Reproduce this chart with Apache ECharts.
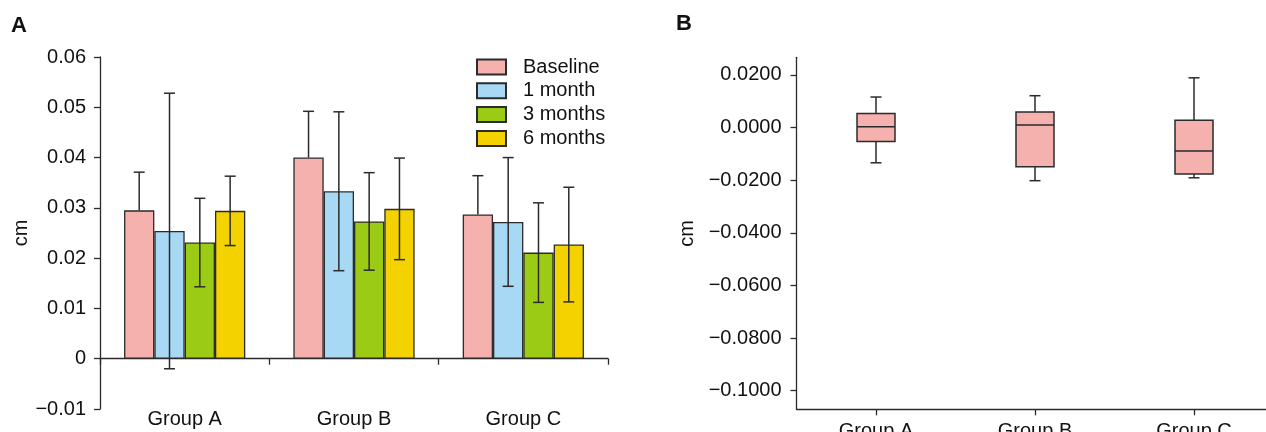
<!DOCTYPE html>
<html><head><meta charset="utf-8">
<script src="https://cdn.jsdelivr.net/npm/echarts@6/dist/echarts.min.js"></script>
<style>html,body{margin:0;padding:0;background:#fff}#c{width:1266px;height:432px}</style>
</head><body><div id="c"></div>
<script>
const categories = ['Group A', 'Group B', 'Group C'];
const seriesNames = ['Baseline', '1 month', '3 months', '6 months'];
const baseline = [0.0295, 0.0400, 0.0287];
const baselineSd = [0.0076, 0.0092, 0.0077];
const month1 = [0.0254, 0.0333, 0.0272];
const month1Sd = [0.0274, 0.0158, 0.0128];
const month3 = [0.0231, 0.0273, 0.0211];
const month3Sd = [0.0088, 0.0097, 0.0099];
const month6 = [0.0294, 0.0298, 0.0227];
const month6Sd = [0.0069, 0.0101, 0.0114];
// boxplot: [min, Q1, median, Q3, max]
const boxA = [-0.0134, -0.0053, 0.0003, 0.0053, 0.0116];
const boxB = [-0.0202, -0.0149, 0.0010, 0.0059, 0.0121];
const boxC = [-0.0191, -0.0177, -0.0089, 0.0028, 0.0189];
const ticksA = [-0.01, 0, 0.01, 0.02, 0.03, 0.04, 0.05, 0.06];
const ticksB = [-0.1, -0.08, -0.06, -0.04, -0.02, 0, 0.02];

const colors = ['#F4B1AE', '#A7D8F4', '#9BCB14', '#F4D200'];
const dark = '#2b2b2b';
const FONT = 'Liberation Sans, Arial, sans-serif';
const BARW = 0.179;
const means = [baseline, month1, month3, month6];
const sds = [baselineSd, month1Sd, month3Sd, month6Sd];

function errRender(sIdx, upperOnly) {
  return function (params, api) {
    const ci = api.value(0), m = api.value(1), sd = api.value(2);
    const c = api.coord([ci, m]);
    const bw = api.size([1, 0])[0] * BARW;
    const x = c[0] + (sIdx - 1.5) * bw;
    const top = api.coord([ci, m + sd])[1];
    const bot = upperOnly ? c[1] : api.coord([ci, m - sd])[1];
    const st = { stroke: dark, lineWidth: 1.5 };
    const ch = [
      { type: 'line', shape: { x1: x, y1: top, x2: x, y2: bot }, style: st },
      { type: 'line', shape: { x1: x - 5.5, y1: top, x2: x + 5.5, y2: top }, style: st }
    ];
    if (!upperOnly) ch.push({ type: 'line', shape: { x1: x - 5.5, y1: bot, x2: x + 5.5, y2: bot }, style: st });
    return { type: 'group', children: ch };
  };
}

function boxRender(params, api) {
  const ci = api.value(0);
  const v = [api.value(1), api.value(2), api.value(3), api.value(4), api.value(5)];
  const cx = api.coord([ci, 0])[0];
  const y = v.map(function (d) { return api.coord([ci, d])[1]; });
  const hw = 19, cw = 5.5;
  const st = { stroke: dark, lineWidth: 1.5 };
  return { type: 'group', children: [
    { type: 'line', shape: { x1: cx, y1: y[4], x2: cx, y2: y[3] }, style: st },
    { type: 'line', shape: { x1: cx, y1: y[1], x2: cx, y2: y[0] }, style: st },
    { type: 'line', shape: { x1: cx - cw, y1: y[4], x2: cx + cw, y2: y[4] }, style: st },
    { type: 'line', shape: { x1: cx - cw, y1: y[0], x2: cx + cw, y2: y[0] }, style: st },
    { type: 'rect', shape: { x: cx - hw, y: y[3], width: 2 * hw, height: y[1] - y[3] }, style: { fill: colors[0], stroke: dark, lineWidth: 1.5 } },
    { type: 'line', shape: { x1: cx - hw, y1: y[2], x2: cx + hw, y2: y[2] }, style: st }
  ]};
}

const fmtA = function (v) { if (Math.abs(v) < 1e-9) return '0'; return (v < 0 ? '\u2212' : '') + Math.abs(v).toFixed(2); };
const fmtB = function (v) { return (v < -1e-9 ? '\u2212' : '') + Math.abs(v).toFixed(4); };

const series = [];
seriesNames.forEach(function (n, i) {
  series.push({
    name: n, type: 'bar', xAxisIndex: 0, yAxisIndex: 0,
    barWidth: (BARW * 100) + '%', barGap: '0%', z: 2,
    itemStyle: { color: colors[i], borderColor: dark, borderWidth: 1.3 },
    data: means[i]
  });
});
seriesNames.forEach(function (n, i) {
  series.push({
    type: 'custom', xAxisIndex: 0, yAxisIndex: 0, z: i === 0 ? 1 : 3,
    renderItem: errRender(i, i === 0),
    data: categories.map(function (c, k) { return [k, means[i][k], sds[i][k]]; })
  });
});
series.push({
  type: 'custom', xAxisIndex: 1, yAxisIndex: 1, z: 3,
  renderItem: boxRender,
  data: [boxA, boxB, boxC].map(function (b, k) { return [k].concat(b); })
});

const axLine = { show: true, lineStyle: { color: dark, width: 1.3 } };
const option = {
  animation: false,
  textStyle: { fontFamily: FONT },
  grid: [
    { left: 100, top: 57, right: 658, bottom: 23, outerBoundsMode: 'none', containLabel: false },
    { left: 796.5, top: 57.3, right: -7.5, bottom: 22.7, outerBoundsMode: 'none', containLabel: false }
  ],
  legend: {
    data: seriesNames, orient: 'vertical', left: 476, top: 57, padding: 0,
    icon: 'rect', itemWidth: 29, itemHeight: 15, itemGap: 3.8,
    textStyle: { fontSize: 20, color: '#111', fontFamily: FONT, padding: [0, 0, 0, 12] }
  },
  xAxis: [
    { type: 'category', gridIndex: 0, data: categories,
      axisLine: axLine, axisTick: { show: true, length: 6, lineStyle: { color: dark, width: 1.3 } },
      axisLabel: { show: false } },
    { type: 'category', gridIndex: 1, data: categories, position: 'bottom',
      axisLine: { show: true, onZero: false, lineStyle: { color: dark, width: 1.3 } },
      axisTick: { show: true, alignWithLabel: true, length: 6, lineStyle: { color: dark, width: 1.3 } },
      axisLabel: { fontSize: 20, color: '#111', margin: 12, fontFamily: FONT } },
    { type: 'category', gridIndex: 0, data: categories, position: 'bottom', offset: -10,
      axisLine: { show: false, onZero: false }, axisTick: { show: false },
      axisLabel: { fontSize: 20, color: '#111', margin: 10, fontFamily: FONT } }
  ],
  yAxis: [
    { type: 'value', gridIndex: 0, min: -0.01, max: 0.06, interval: 0.01,
      name: 'cm', nameLocation: 'middle', nameGap: 67, nameRotate: 90,
      nameTextStyle: { fontSize: 20, color: '#111', fontFamily: FONT },
      axisLine: axLine, axisTick: { show: true, length: 6, lineStyle: { color: dark, width: 1.3 } },
      splitLine: { show: false },
      axisLabel: { fontSize: 20, color: '#111', margin: 14, formatter: fmtA, fontFamily: FONT } },
    { type: 'value', gridIndex: 1, min: -0.1071, max: 0.0267,
      name: 'cm', nameLocation: 'middle', nameGap: 99, nameRotate: 90,
      nameTextStyle: { fontSize: 20, color: '#111', fontFamily: FONT },
      axisLine: axLine,
      axisTick: { show: true, length: 6, customValues: ticksB, lineStyle: { color: dark, width: 1.3 } },
      splitLine: { show: false },
      axisLabel: { fontSize: 20, color: '#111', margin: 15, customValues: ticksB, formatter: fmtB, fontFamily: FONT } }
  ],
  graphic: [
    { type: 'text', left: 11, top: 15, style: { text: 'A', font: 'bold 22px ' + FONT, fill: '#111' } },
    { type: 'text', left: 676, top: 13, style: { text: 'B', font: 'bold 22px ' + FONT, fill: '#111' } }
  ],
  series: series
};
const chart = echarts.init(document.getElementById('c'), null, { renderer: 'canvas' });
chart.setOption(option);
</script></body></html>
